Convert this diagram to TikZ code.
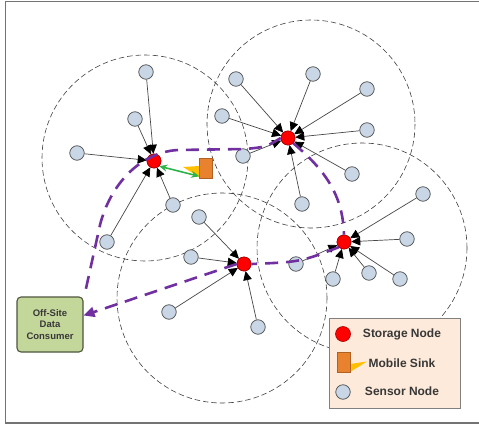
\documentclass[tikz,border=0pt]{standalone}
\usepackage{fontspec}
\setmainfont{Liberation Sans}
\usetikzlibrary{arrows.meta}

\definecolor{routeviolet}{HTML}{7030A0}
\definecolor{sensorblue}{HTML}{C8D6E5}
\definecolor{sinkorange}{HTML}{E9822F}
\definecolor{beamyellow}{HTML}{FFC000}
\definecolor{linkgreen}{HTML}{2DB34A}
\definecolor{consumergreen}{HTML}{C4D79B}
\definecolor{legendpeach}{HTML}{FDEADA}
\definecolor{labelgray}{HTML}{383838}

\begin{document}
\begin{tikzpicture}[
  x=1pt, y=-1pt,
  sensor/.style={circle, draw=black!70, fill=sensorblue, line width=0.7pt, minimum size=14.5pt, inner sep=0pt},
  storage/.style={circle, draw=red!65!black, fill=red, line width=0.6pt, minimum size=14pt, inner sep=0pt},
  sink/.style={rectangle, draw=sinkorange!75!black, fill=sinkorange, line width=0.6pt, minimum width=13pt, minimum height=20pt, inner sep=0pt},
  zone/.style={draw=black!75, line width=0.6pt, dash pattern=on 5.5pt off 3pt},
  arr/.style={draw=black!72, line width=0.7pt, -{Triangle[length=9pt,width=8.5pt,color=black]}},
  route/.style={draw=routeviolet, line width=2.6pt, dash pattern=on 13pt off 8pt},
  link/.style={draw=linkgreen, line width=1.6pt, {Stealth[length=8pt,width=7pt]}-{Stealth[length=8pt,width=7pt]}},
  legtext/.style={font=\fontsize{12}{14}\selectfont\bfseries, text=labelgray, inner sep=2pt},
]
\useasboundingbox (0,0) rectangle (479,428);
\fill[white] (0,0) rectangle (479,428);
\draw[black!55, line width=1.6pt] (479,1.5) -- (5.5,1.5) -- (5.5,423) -- (479,423);

\draw[zone] (145,158) circle[radius=103];
\draw[zone] (311,124) circle[radius=104];
\draw[zone] (222,298) circle[radius=105];
\draw[zone] (362,248) circle[radius=105];

\node[storage] (s1) at (154,161) {};
\node[storage] (s2) at (288,138) {};
\node[storage] (s3) at (244,264) {};
\node[storage] (s4) at (344,242) {};

\foreach \x/\y [count=\i] in {146/72, 135/119, 77/153, 173/205, 107/242}
  \node[sensor] (a\i) at (\x,\y) {};
\foreach \x/\y [count=\i] in {236/79, 313/74, 367/89, 367/130, 352/174, 302/204, 222/116, 243/156}
  \node[sensor] (b\i) at (\x,\y) {};
\foreach \x/\y [count=\i] in {199/217, 191/257, 169/312, 258/327}
  \node[sensor] (c\i) at (\x,\y) {};
\foreach \x/\y [count=\i] in {423/194, 407/239, 369/273, 400/279, 333/279, 296/264}
  \node[sensor] (d\i) at (\x,\y) {};

\foreach \i in {1,...,5} \draw[arr] (a\i) -- (s1);
\foreach \i in {1,...,8} \draw[arr] (b\i) -- (s2);
\foreach \i in {1,...,4} \draw[arr] (c\i) -- (s3);
\foreach \i in {1,...,6} \draw[arr] (d\i) -- (s4);

\node[storage] at (s1) {};
\node[storage] at (s2) {};
\node[storage] at (s3) {};
\node[storage] at (s4) {};

\node[draw=black!60!consumergreen, fill=consumergreen, line width=1.1pt, rounded corners=4pt,
  minimum width=66pt, minimum height=55pt, align=center, text=labelgray,
  font=\fontsize{9.5}{11.5}\selectfont\bfseries] (consumer) at (50,324.5) {Off-Site\\Data\\Consumer};
\coordinate (aend) at (85,293);

\draw[route] (s2.west) .. controls (266,147) .. (245,149) -- (178,150)
  .. controls (140,152) and (110,185) .. (100,225) -- (aend);
\draw[route] (s2.south east) .. controls (325,170) and (343,195) .. (s4.north);
\draw[route] (s4.south west) .. controls (300,262) .. (s3.east);
\draw[route, -{Triangle[length=11pt,width=10pt]}] (s3.west) -- ([yshift=9pt]consumer.east);

\node[sink] (mob) at (206,168) {};
\fill[beamyellow] (199,166) -- (183,167) -- (199,177) -- cycle;
\node[sink] at (mob) {};
\draw[link] (s1.south east) -- ([yshift=2pt]mob.south west);

\node[draw=black!50, fill=legendpeach, line width=0.8pt, minimum width=131pt, minimum height=90pt,
  inner sep=0pt] (legend) at (394.5,363) {};
\node[storage, minimum size=15pt] (lgstore) at (343,334) {};
\node[sink] (lgsink) at (343.5,362) {};
\fill[beamyellow] (350,364) -- (367,361.5) -- (350,372) -- cycle;
\node[sink] at (lgsink) {};
\node[sensor] (lgsensor) at (343,392) {};
\node[legtext] (lgstoretext) at (402,334) {Storage Node};
\node[legtext] (lgsinktext) at (402,363) {Mobile Sink};
\node[legtext] (lgsensortext) at (402,391) {Sensor Node};
\end{tikzpicture}
\end{document}
